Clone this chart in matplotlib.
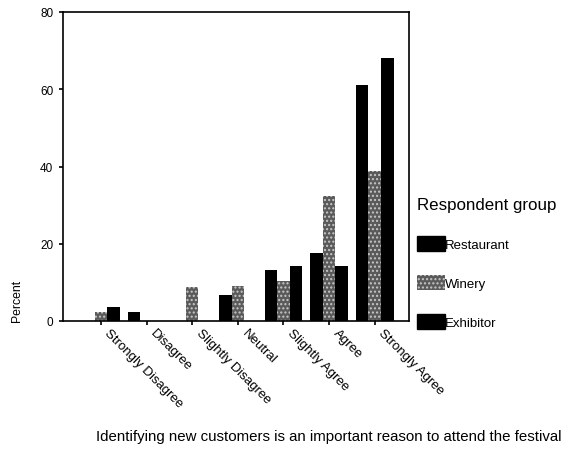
import numpy as np
from matplotlib import pyplot as plt
from matplotlib.patches import Patch
from matplotlib.transforms import ScaledTranslation

plt.rcParams['font.family'] = ['Liberation Sans', 'DejaVu Sans']

# Data
categories = ["Strongly Disagree", "Disagree", "Slightly Disagree", "Neutral",
              "Slightly Agree", "Agree", "Strongly Agree"]
restaurant = [0, 2.3, 0, 6.7, 13.2, 17.6, 61.0]
winery = [2.3, 0, 8.8, 9.0, 10.4, 32.3, 38.8]
exhibitor = [3.6, 0, 0, 0, 14.2, 14.2, 68.1]
groups = ["Restaurant", "Winery", "Exhibitor"]
yticks = [0, 20, 40, 60, 80]

fig = plt.figure(figsize=(5.69, 4.56), dpi=100)
ax = fig.add_axes([63 / 569, 1 - 322 / 456, 346 / 569, 309 / 456])

x = np.arange(len(categories))
w = 0.275
styles = [dict(color="black"),
          dict(facecolor="#5a5a5a", edgecolor="#c8c8c8", hatch="....", linewidth=0),
          dict(color="black")]
for i, (vals, st) in enumerate(zip([restaurant, winery, exhibitor], styles)):
    ax.bar(x + (i - 1) * w, vals, width=w, **st)

ax.set_xlim(-0.83, 6.75)
ax.set_ylim(0, 80)
ax.set_yticks(yticks)
ax.set_yticklabels([str(t) for t in yticks], fontsize=8.5)
ax.set_xticks(x)
ax.set_xticklabels([])
ax.tick_params(axis="both", length=3, width=1.2)
ax.tick_params(axis="y", pad=4)
for sp in ax.spines.values():
    sp.set_linewidth(1.2)

# slanted category labels, placed a bit right of each tick as in the original
lab_tr = ax.get_xaxis_transform() + ScaledTranslation(10 / 100, -6 / 100, fig.dpi_scale_trans)
for xi, cat in zip(x, categories):
    ax.text(xi, 0, cat, transform=lab_tr, rotation=-45, ha="left", va="top",
            rotation_mode="anchor", fontsize=9.5)

fig.text(17 / 569, 1 - 301 / 456, "Percent", rotation=90, ha="center",
         va="center", fontsize=8.8)

handles = [Patch(color="black"),
           Patch(facecolor="#5a5a5a", edgecolor="#c8c8c8", hatch="....", linewidth=0),
           Patch(color="black")]
leg = fig.legend(handles, groups, title="Respondent group", loc="upper left",
                 bbox_to_anchor=(417 / 569, 1 - 198 / 456), frameon=False,
                 fontsize=9.5, title_fontsize=12.2, handlelength=2.1,
                 handleheight=1.3, handletextpad=0.05, labelspacing=1.85,
                 borderpad=0, borderaxespad=0, alignment="left")

fig.text(329 / 569, 1 - 437 / 456,
         "Identifying new customers is an important reason to attend the festival",
         ha="center", va="center", fontsize=10.8)

fig.savefig("out.png", dpi=100)
